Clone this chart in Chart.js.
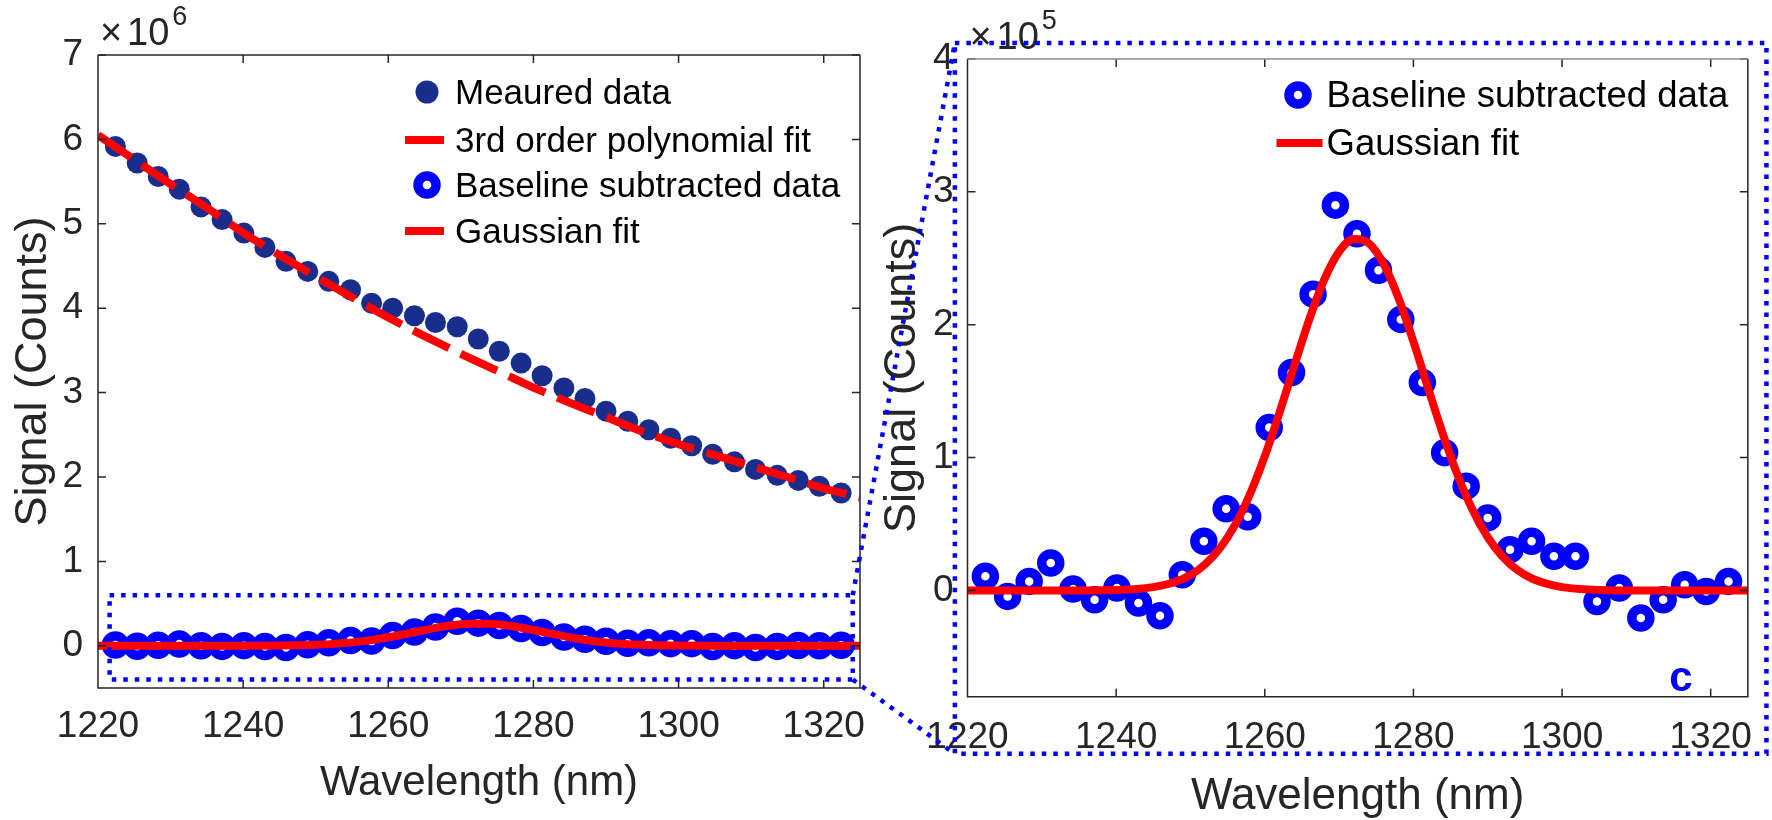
<!DOCTYPE html>
<html>
<head>
<meta charset="utf-8">
<script src="https://cdn.jsdelivr.net/npm/chart.js@4.4.1/dist/chart.umd.min.js"></script>
<style>
  html, body { margin: 0; padding: 0; background: #fff; }
  #wrap { position: relative; width: 1772px; height: 820px; overflow: hidden; }
  #wrap canvas { position: absolute; left: 0; top: 0; }
</style>
</head>
<body>
<div id="wrap">
  <canvas id="fullCanvas" width="1772" height="820"></canvas>
  <canvas id="zoomCanvas" width="1772" height="820"></canvas>
</div>
<script>
  // Wavelength of every sample (nm)
  const wavelength = [1222.4, 1225.4, 1228.3, 1231.2, 1234.2, 1237.1, 1240.1, 1243.0, 1245.9, 1248.9,
    1251.8, 1254.8, 1257.7, 1260.6, 1263.6, 1266.5, 1269.5, 1272.4, 1275.3, 1278.3,
    1281.2, 1284.2, 1287.1, 1290.0, 1293.0, 1295.9, 1298.9, 1301.8, 1304.7, 1307.7,
    1310.6, 1313.6, 1316.5, 1319.4, 1322.4];

  // Measured signal (counts)
  const measured = [5917000, 5720000, 5560000, 5410000, 5200000, 5050000, 4890000, 4720000, 4555000, 4436000,
    4318000, 4219000, 4060000, 4000000, 3910000, 3830000, 3780000, 3635000, 3490000, 3350000,
    3200000, 3055000, 2930000, 2780000, 2660000, 2560000, 2460000, 2370000, 2270000, 2180000,
    2090000, 2020000, 1960000, 1890000, 1810000];

  // Baseline subtracted signal (counts)
  const baselineSub = [10600, -4500, 6800, 20700, 1000, -7000, 1800, -9500, -19000, 11800,
    37000, 61400, 55400, 122600, 164000, 223000, 290000, 268500, 241000, 204000,
    156500, 103700, 78500, 54600, 30700, 37000, 25700, 25700, -8300, 1800,
    -20800, -7000, 4300, -800, 6800];

  // 3rd order polynomial baseline
  const polyWl = [1220, 1225, 1230, 1235, 1240, 1245, 1250, 1255, 1260, 1265, 1270,
    1275, 1280, 1285, 1290, 1295, 1300, 1305, 1310, 1315, 1320, 1325];
  const polyFit = [6050000, 5760000, 5470000, 5190000, 4895000, 4630000, 4375000, 4130000, 3890000, 3670000, 3460000,
    3260000, 3060000, 2880000, 2710000, 2540000, 2390000, 2260000, 2130000, 2000000, 1865000, 1760000];

  // Gaussian fit
  const gaussWl = [1220, 1230, 1240, 1245, 1248, 1250, 1252, 1254, 1256, 1258, 1260, 1262, 1264, 1266, 1268,
    1270, 1272, 1274, 1276, 1278, 1280, 1282, 1284, 1286, 1288, 1290, 1292, 1294, 1296, 1300, 1305, 1310, 1325];
  const gaussFit = [0, 0, 390, 2500, 6500, 11600, 19800, 32000, 49300, 72400, 101000, 134200, 169700, 204200, 233900,
    255000, 264600, 261300, 245700, 219900, 187300, 151800, 117100, 86000, 60100, 40000, 25300, 15300, 8800, 2500, 400, 0, 0];

  // Axis ranges and tick labels
  const xRange = [1220, 1325];
  const xTickLabels = [1220, 1240, 1260, 1280, 1300, 1320];
  const fullRange = [-0.5e6, 7e6];
  const fullTickLabels = [0, 1, 2, 3, 4, 5, 6, 7];   // x10^6
  const zoomRange = [-0.8e5, 4e5];
  const zoomTickLabels = [0, 1, 2, 3, 4];            // x10^5

  // Zoom box on the full plot and the frame round the zoomed plot (data units)
  const insetBox = { x0: 1221.6, x1: 1324.0, y0: -0.4e6, y1: 0.6e6 };
  const frameBox = { x0: 1218.3, x1: 1327.5, y0: -1.23e5, y1: 4.12e5 };
  const panelLetter = { text: "c", x: 1316.0, y: -0.757e5 };

  const FONT = "'Liberation Sans', Arial, Helvetica, sans-serif";
  const AXIS_COLOR = "#262626";
  const NAVY = "#192d8c";
  const BLUE = "#0000ff";
  const RED = "#ff0000";

  const pts = (xs, ys) => xs.map((x, i) => ({ x: x, y: ys[i] }));

  // MATLAB like box, inner ticks, exponent and legend
  const matlabAxes = {
    id: "matlabAxes",
    afterDatasetsDraw(chart, args, opts) {
      const ctx = chart.ctx;
      const { left, right, top, bottom } = chart.chartArea;
      const xs = chart.scales.x, ys = chart.scales.y;
      ctx.save();
      ctx.lineWidth = 1.5;
      ctx.strokeStyle = AXIS_COLOR;
      ctx.beginPath();
      xs.ticks.forEach(t => {
        const px = xs.getPixelForValue(t.value);
        ctx.moveTo(px, bottom); ctx.lineTo(px, bottom - 8);
        ctx.moveTo(px, top); ctx.lineTo(px, top + 8);
      });
      ys.ticks.forEach(t => {
        const py = ys.getPixelForValue(t.value);
        ctx.moveTo(left, py); ctx.lineTo(left + 8, py);
        ctx.moveTo(right, py); ctx.lineTo(right - 8, py);
      });
      ctx.moveTo(right, top); ctx.lineTo(right, bottom); ctx.lineTo(left, bottom); ctx.lineTo(left, top);
      ctx.stroke();
      ctx.strokeStyle = opts.topColor || AXIS_COLOR;
      ctx.beginPath(); ctx.moveTo(left, top); ctx.lineTo(right, top); ctx.stroke();

      // x10^n above the y axis
      ctx.fillStyle = AXIS_COLOR;
      ctx.textAlign = "left";
      ctx.textBaseline = "alphabetic";
      ctx.font = "38px " + FONT;
      ctx.fillText("\u00d7", left + 2, top - 10);
      ctx.fillText("10", left + 29, top - 10);
      const w = ctx.measureText("10").width;
      ctx.font = "27px " + FONT;
      ctx.fillText(String(opts.exponent), left + 29 + w + 3, top - 30);

      // legend
      const lg = opts.legend;
      chart.data.datasets.forEach((ds, i) => {
        const base = lg.baselines[i];
        const cy = base - 12;
        ctx.setLineDash([]);
        if (ds.showLine) {
          ctx.strokeStyle = ds.borderColor;
          ctx.lineWidth = ds.borderWidth;
          ctx.beginPath(); ctx.moveTo(lg.lineFrom, cy); ctx.lineTo(lg.lineTo, cy); ctx.stroke();
        } else if (ds.pointBorderWidth > 0) {
          ctx.strokeStyle = ds.pointBorderColor;
          ctx.lineWidth = ds.pointBorderWidth;
          ctx.beginPath(); ctx.arc(lg.markerX, cy, ds.pointRadius, 0, 2 * Math.PI); ctx.stroke();
        } else {
          ctx.fillStyle = ds.pointBackgroundColor;
          ctx.beginPath(); ctx.arc(lg.markerX, cy, ds.pointRadius + 1, 0, 2 * Math.PI); ctx.fill();
        }
        ctx.fillStyle = "#000";
        ctx.font = lg.size + "px " + FONT;
        ctx.fillText(ds.label, lg.textX, base);
      });
      ctx.restore();
    }
  };

  // Dotted zoom box, frame and connector lines, drawn over both plots
  const zoomLinks = {
    id: "zoomLinks",
    afterDraw(chart) {
      if (typeof fullChart === "undefined") return;
      const ctx = chart.ctx;
      const sx = fullChart.scales.x, sy = fullChart.scales.y;
      const zx = chart.scales.x, zy = chart.scales.y;
      const a = { l: sx.getPixelForValue(insetBox.x0), r: sx.getPixelForValue(insetBox.x1),
                  t: sy.getPixelForValue(insetBox.y1), b: sy.getPixelForValue(insetBox.y0) };
      const f = { l: zx.getPixelForValue(frameBox.x0), r: zx.getPixelForValue(frameBox.x1),
                  t: zy.getPixelForValue(frameBox.y1), b: zy.getPixelForValue(frameBox.y0) };
      ctx.save();
      ctx.strokeStyle = BLUE;
      ctx.lineWidth = 4.5;
      ctx.setLineDash([4.5, 7]);
      ctx.strokeRect(a.l, a.t, a.r - a.l, a.b - a.t);
      ctx.strokeRect(f.l, f.t, f.r - f.l, f.b - f.t);
      ctx.beginPath();
      ctx.moveTo(a.r, a.t); ctx.lineTo(f.l, f.t);
      ctx.moveTo(a.r, a.b); ctx.lineTo(f.l, f.b);
      ctx.stroke();

      ctx.fillStyle = BLUE;
      ctx.font = "bold 42px " + FONT;
      ctx.textAlign = "center";
      ctx.textBaseline = "alphabetic";
      ctx.fillText(panelLetter.text, zx.getPixelForValue(panelLetter.x), zy.getPixelForValue(panelLetter.y));
      ctx.restore();
    }
  };

  function axes(range, labels, scale, o) {
    return {
      x: {
        type: "linear", min: xRange[0], max: xRange[1],
        grid: { display: false, drawTicks: false }, border: { display: false },
        afterBuildTicks: s => { s.ticks = xTickLabels.map(v => ({ value: v })); },
        ticks: { maxRotation: 0, autoSkip: false,
          padding: o.xPad, color: AXIS_COLOR, font: { family: FONT, size: 37 }, callback: v => String(v) },
        title: { display: true, text: "Wavelength (nm)", color: AXIS_COLOR,
          font: { family: FONT, size: o.xTitleSize, lineHeight: 1 }, padding: { bottom: o.xTitlePad } },
        afterFit: s => { s.height = o.xHeight; }
      },
      y: {
        type: "linear", min: range[0], max: range[1],
        grid: { display: false, drawTicks: false }, border: { display: false },
        afterBuildTicks: s => { s.ticks = labels.map(v => ({ value: v * scale })); },
        ticks: { autoSkip: false, padding: o.yPad, color: AXIS_COLOR,
          font: { family: FONT, size: 37 }, callback: v => String(Math.round(v / scale)) },
        title: { display: true, text: "Signal (Counts)", color: AXIS_COLOR,
          font: { family: FONT, size: 45, lineHeight: 1 }, padding: { top: o.yTitlePad } },
        afterFit: s => { s.width = o.yWidth; }
      }
    };
  }

  const fullChart = new Chart(document.getElementById("fullCanvas"), {
    type: "scatter",
    data: {
      datasets: [
        { label: "Meaured data", data: pts(wavelength, measured), pointRadius: 10.5,
          pointBackgroundColor: NAVY, pointBorderWidth: 0, order: 3 },
        { label: "3rd order polynomial fit", data: pts(polyWl, polyFit), showLine: true, pointRadius: 0,
          borderColor: RED, borderWidth: 8, borderDash: [40, 13], cubicInterpolationMode: "monotone", order: 2 },
        { label: "Baseline subtracted data", data: pts(wavelength, baselineSub), pointRadius: 9,
          pointBorderWidth: 9.5, pointBorderColor: BLUE, pointBackgroundColor: "rgba(0,0,0,0)", order: 1 },
        { label: "Gaussian fit", data: pts(gaussWl, gaussFit), showLine: true, pointRadius: 0,
          borderColor: RED, borderWidth: 8, cubicInterpolationMode: "monotone", order: 0 }
      ]
    },
    options: {
      responsive: false, animation: false, devicePixelRatio: 1,
      layout: { autoPadding: false, padding: { left: 0, top: 55, right: 912, bottom: 0 } },
      scales: axes(fullRange, fullTickLabels, 1e6,
        { xPad: 17, yPad: 15, xHeight: 132, yWidth: 98, xTitleSize: 42, xTitlePad: 16, yTitlePad: 11 }),
      plugins: {
        legend: { display: false }, tooltip: { enabled: false },
        matlabAxes: { exponent: 6,
          legend: { size: 35, markerX: 427, lineFrom: 405, lineTo: 444, textX: 455, baselines: [104, 152, 197, 243] } }
      }
    },
    plugins: [matlabAxes]
  });

  const zoomChart = new Chart(document.getElementById("zoomCanvas"), {
    type: "scatter",
    data: {
      datasets: [
        { label: "Baseline subtracted data", data: pts(wavelength, baselineSub), pointRadius: 9,
          pointBorderWidth: 9.5, pointBorderColor: BLUE, pointBackgroundColor: "rgba(0,0,0,0)", order: 1 },
        { label: "Gaussian fit", data: pts(gaussWl, gaussFit), showLine: true, pointRadius: 0,
          borderColor: RED, borderWidth: 8, cubicInterpolationMode: "monotone", order: 0 }
      ]
    },
    options: {
      responsive: false, animation: false, devicePixelRatio: 1,
      layout: { autoPadding: false, padding: { left: 880, top: 59, right: 24, bottom: 0 } },
      scales: axes(zoomRange, zoomTickLabels, 1e5,
        { xPad: 19, yPad: 14, xHeight: 123.3, yWidth: 87.5, xTitleSize: 44, xTitlePad: 1, yTitlePad: 0 }),
      plugins: {
        legend: { display: false }, tooltip: { enabled: false },
        matlabAxes: { exponent: 5, topColor: "#8c8c8c",
          legend: { size: 36.5, markerX: 1298, lineFrom: 1276.5, lineTo: 1322.5, textX: 1326.5, baselines: [107, 155] } }
      }
    },
    plugins: [matlabAxes, zoomLinks]
  });
</script>
</body>
</html>
